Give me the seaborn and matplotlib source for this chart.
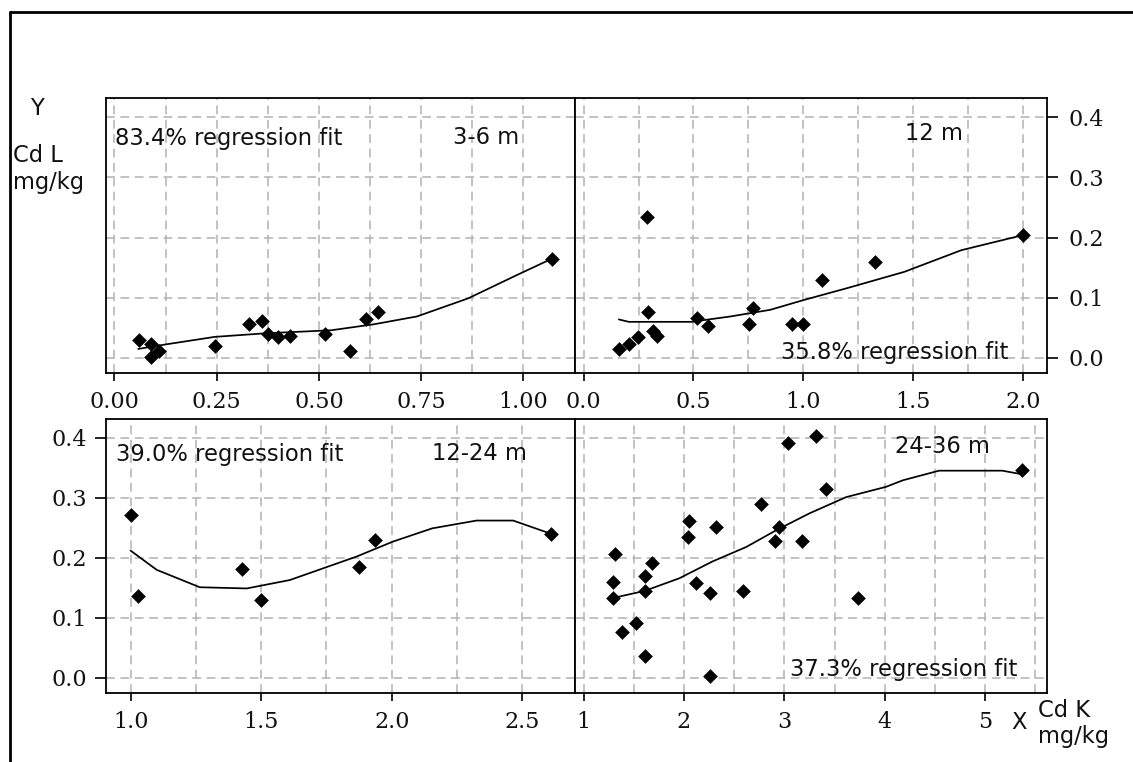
import matplotlib
matplotlib.use("Agg")
import matplotlib.pyplot as plt
from matplotlib.lines import Line2D
from matplotlib.ticker import MultipleLocator, FormatStrFormatter
import pandas as pd
import seaborn as sns

# ---- data: Cd in liver (Y) vs Cd in kidney (X), by age group ----
groups = ["3-6 m", "12 m", "12-24 m", "24-36 m"]
fit_pct = [83.4, 35.8, 39.0, 37.3]

x_3_6 = [0.06, 0.09, 0.09, 0.11, 0.245, 0.33, 0.36, 0.375, 0.40, 0.43, 0.515, 0.575, 0.615, 0.645, 1.07]
y_3_6 = [0.029, 0.023, 0.001, 0.012, 0.020, 0.056, 0.062, 0.040, 0.034, 0.036, 0.039, 0.012, 0.065, 0.076, 0.165]
fx_3_6 = [0.058, 0.13, 0.245, 0.37, 0.53, 0.635, 0.74, 0.865, 0.985, 1.07]
fy_3_6 = [0.015, 0.023, 0.035, 0.041, 0.046, 0.056, 0.069, 0.099, 0.138, 0.165]

x_12 = [0.16, 0.205, 0.245, 0.29, 0.295, 0.315, 0.335, 0.515, 0.565, 0.755, 0.77, 0.95, 1.0, 1.085, 1.325, 2.0]
y_12 = [0.015, 0.023, 0.034, 0.234, 0.077, 0.045, 0.037, 0.067, 0.053, 0.056, 0.083, 0.056, 0.056, 0.129, 0.160, 0.204]
fx_12 = [0.16, 0.205, 0.49, 0.67, 0.85, 1.0, 1.2, 1.46, 1.72, 2.0]
fy_12 = [0.064, 0.060, 0.060, 0.069, 0.080, 0.096, 0.116, 0.143, 0.179, 0.204]

x_12_24 = [1.0, 1.03, 1.425, 1.5, 1.875, 1.935, 2.61]
y_12_24 = [0.272, 0.136, 0.182, 0.130, 0.185, 0.229, 0.240]
fx_12_24 = [1.0, 1.1, 1.265, 1.445, 1.61, 1.865, 2.005, 2.155, 2.325, 2.465, 2.61]
fy_12_24 = [0.212, 0.180, 0.151, 0.149, 0.163, 0.202, 0.227, 0.249, 0.262, 0.262, 0.240]

x_24_36 = [1.315, 1.29, 1.29, 1.385, 1.525, 1.61, 1.61, 1.61, 1.685, 2.055, 2.04, 2.115, 2.255,
           2.255, 2.315, 2.585, 2.77, 2.905, 2.95, 3.035, 3.18, 3.315, 3.415, 3.73, 5.365]
y_24_36 = [0.207, 0.160, 0.133, 0.077, 0.092, 0.037, 0.169, 0.145, 0.191, 0.262, 0.234, 0.158, 0.141,
           0.004, 0.251, 0.145, 0.289, 0.228, 0.251, 0.391, 0.228, 0.403, 0.314, 0.133, 0.346]
fx_24_36 = [1.29, 1.61, 1.955, 2.285, 2.62, 2.92, 3.25, 3.615, 4.01, 4.18, 4.54, 5.17, 5.365]
fy_24_36 = [0.133, 0.145, 0.166, 0.194, 0.218, 0.246, 0.274, 0.301, 0.318, 0.329, 0.345, 0.345, 0.339]

y_ticks = [0.0, 0.1, 0.2, 0.3, 0.4]

# ---- styling ----
sns.set_style("white")
plt.rcParams["font.family"] = ["DejaVu Sans"]

W, H = 1133, 762
fig = plt.figure(figsize=(W / 100, H / 100), dpi=100)


def rect(l, t, r, b):
    return [l / W, 1 - b / H, (r - l) / W, (b - t) / H]


def fpos(x, y):
    return x / W, 1 - y / H


panels = [
    dict(pts=(x_3_6, y_3_6), fit=(fx_3_6, fy_3_6), box=rect(105.5, 98.5, 574.5, 373),
         xlim=(-0.022, 1.125), major=0.25, minor=0.125, fmt="%.2f", yside=None),
    dict(pts=(x_12, y_12), fit=(fx_12, fy_12), box=rect(574.5, 98.5, 1046.5, 373),
         xlim=(-0.042, 2.108), major=0.5, minor=0.25, fmt="%.1f", yside="right"),
    dict(pts=(x_12_24, y_12_24), fit=(fx_12_24, fy_12_24), box=rect(105.5, 419, 574.5, 693),
         xlim=(0.904, 2.700), major=0.5, minor=0.25, fmt="%.1f", yside="left"),
    dict(pts=(x_24_36, y_24_36), fit=(fx_24_36, fy_24_36), box=rect(574.5, 419, 1046.5, 693),
         xlim=(0.91, 5.61), major=1.0, minor=0.5, fmt="%d", yside=None),
]

grid_kw = dict(color="#b4b4b4", linestyle=(0, (5.5, 3.5)), linewidth=1.15)
tick_font = {"family": "DejaVu Serif", "size": 16}

for p in panels:
    ax = fig.add_axes(p["box"])
    ax.set_axisbelow(True)
    pts = pd.DataFrame({"x": p["pts"][0], "y": p["pts"][1]})
    fit = pd.DataFrame({"x": p["fit"][0], "y": p["fit"][1]})
    sns.lineplot(data=fit, x="x", y="y", ax=ax, color="black", linewidth=1.25,
                 sort=False, estimator=None, zorder=2)
    sns.scatterplot(data=pts, x="x", y="y", ax=ax, marker="D", s=50, color="black",
                    edgecolor="black", linewidth=0.4, zorder=3)
    ax.set_xlim(*p["xlim"])
    ax.set_ylim(-0.025, 0.431)
    ax.xaxis.set_major_locator(MultipleLocator(p["major"]))
    ax.xaxis.set_minor_locator(MultipleLocator(p["minor"]))
    ax.xaxis.set_major_formatter(FormatStrFormatter(p["fmt"]))
    ax.set_yticks(y_ticks)
    ax.yaxis.set_major_formatter(FormatStrFormatter("%.1f"))
    ax.grid(True, which="both", axis="x", **grid_kw)
    ax.grid(True, which="major", axis="y", **grid_kw)
    ax.set_xlabel("")
    ax.set_ylabel("")
    for s in ax.spines.values():
        s.set_visible(True)
        s.set_color("black")
        s.set_linewidth(1.3)
    ax.tick_params(axis="x", which="major", direction="out", length=6, width=1.2,
                   color="black", bottom=True, pad=7)
    ax.tick_params(axis="x", which="minor", length=0)
    if p["yside"] == "right":
        ax.tick_params(axis="y", which="major", direction="out", length=8, width=1.2,
                       color="black", left=False, labelleft=False, right=True,
                       labelright=True, pad=8)
    elif p["yside"] == "left":
        ax.tick_params(axis="y", which="major", direction="out", length=8, width=1.2,
                       color="black", left=True, labelleft=True, pad=5)
    else:
        ax.tick_params(axis="y", left=False, labelleft=False, right=False,
                       labelright=False)
    for lab in ax.get_xticklabels() + ax.get_yticklabels():
        lab.set_fontfamily(tick_font["family"])
        lab.set_fontsize(tick_font["size"])
        lab.set_color("#111111")

# ---- panel annotations ----
txt = dict(fontsize=16.3, color="#111111", va="baseline")
fig.text(*fpos(115, 145), f"{fit_pct[0]:.1f}% regression fit", ha="left", **txt)
fig.text(*fpos(453, 144), groups[0], ha="left", **txt)
fig.text(*fpos(905, 140), groups[1], ha="left", **txt)
fig.text(*fpos(781, 359), f"{fit_pct[1]:.1f}% regression fit", ha="left", **txt)
fig.text(*fpos(116, 461), f"{fit_pct[2]:.1f}% regression fit", ha="left", **txt)
fig.text(*fpos(432, 460), groups[2], ha="left", **txt)
fig.text(*fpos(895, 453), groups[3], ha="left", **txt)
fig.text(*fpos(790, 676), f"{fit_pct[3]:.1f}% regression fit", ha="left", **txt)

# ---- axis captions ----
fig.text(*fpos(37, 115), "Y", ha="center", **txt)
fig.text(*fpos(13, 162), "Cd L", ha="left", **txt)
fig.text(*fpos(13, 189), "mg/kg", ha="left", **txt)
fig.text(*fpos(1019, 729), "X", ha="center", **txt)
fig.text(*fpos(1038, 717), "Cd K", ha="left", **txt)
fig.text(*fpos(1038, 743), "mg/kg", ha="left", **txt)

# ---- outer frame (top and left edges) ----
x0, y0 = fpos(9.5, 12)
fig.add_artist(Line2D([x0, x0], [0, y0], transform=fig.transFigure, color="black", linewidth=2))
fig.add_artist(Line2D([x0, 1], [y0, y0], transform=fig.transFigure, color="black", linewidth=2))

fig.savefig("out.png", dpi=100, facecolor="white")
